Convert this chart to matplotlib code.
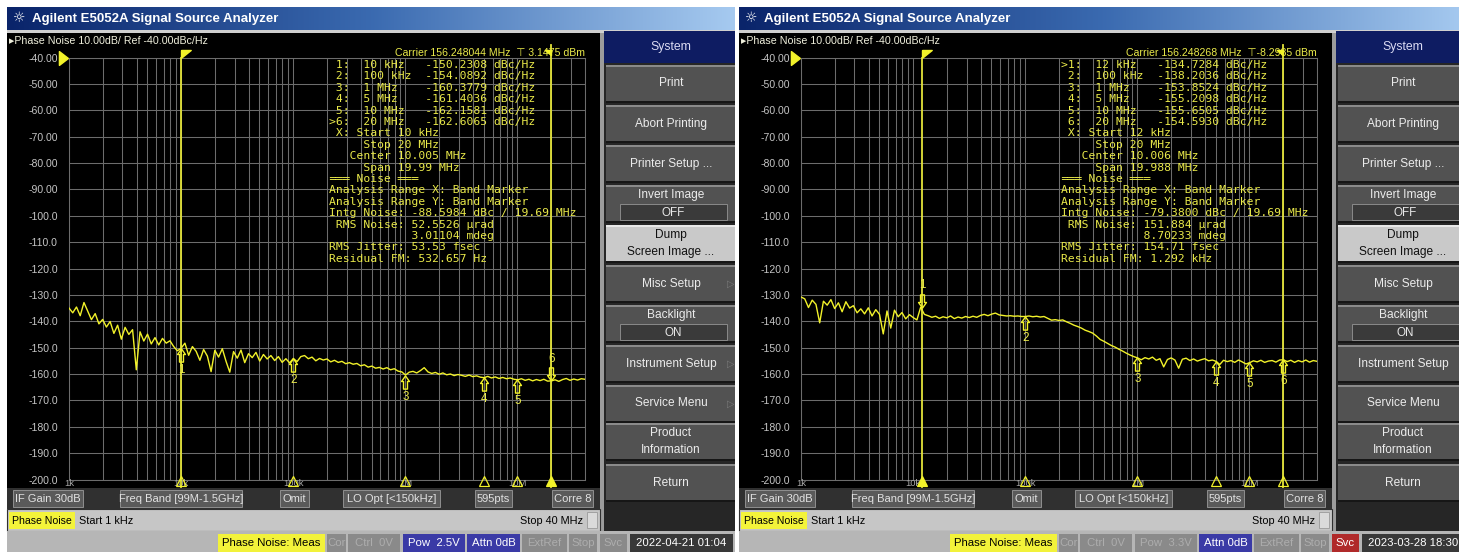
import numpy as np
import matplotlib.pyplot as plt
from matplotlib import transforms
from matplotlib.colors import LinearSegmentedColormap
from matplotlib.patches import Rectangle
from matplotlib.path import Path
from matplotlib.ticker import LogLocator, NullFormatter, FixedLocator

plt.rcParams['font.family'] = ['Liberation Sans', 'DejaVu Sans']

W, H = 1459, 552
DX = 732  # second screen sits this many pixels to the right

# ---- sweep: 1 kHz .. 40 MHz, log spaced points
start_freq, stop_freq = 1e3, 40e6

trace_a = [
    -135.0, -136.8, -134.6, -137.9, -132.9, -136.2, -139.4, -137.1, -141.0, -139.3,
    -142.2, -140.1, -144.6, -141.5, -146.8, -142.3, -145.0, -143.2, -158.4, -144.0,
    -147.5, -144.9, -148.6, -146.2, -149.0, -146.5, -148.3, -147.4, -149.6, -151.2,
    -150.2, -148.3, -152.9, -149.6, -151.4, -154.8, -150.7, -153.2, -159.1, -151.0,
    -153.6, -150.4, -155.2, -159.3, -151.5, -154.0, -150.9, -155.7, -152.3, -153.8,
    -151.8, -155.1, -152.6, -154.3, -153.0, -154.9, -153.4, -155.6, -154.2, -155.8,
    -154.1, -155.3, -153.4, -153.0, -154.2, -153.6, -155.0, -154.1, -154.7, -154.3,
    -155.4, -154.8, -155.6, -155.2, -156.1, -155.7, -156.3, -156.0, -156.9, -156.5,
    -157.4, -157.0, -157.8, -157.5, -158.1, -157.6, -158.4, -158.0, -158.9, -159.2,
    -160.4, -159.3, -159.0, -159.6, -158.7, -157.6, -159.2, -159.8, -159.4, -160.1,
    -159.6, -160.3, -160.0, -160.6, -160.2, -160.5, -160.9, -160.4, -161.0, -160.7,
    -161.2, -161.4, -160.9, -161.5, -161.1, -161.7, -161.3, -161.8, -161.5, -162.0,
    -162.2, -161.8, -162.4, -162.0, -162.6, -162.1, -162.5, -162.0, -162.7, -162.6,
    -162.2, -162.8, -162.1, -161.7, -162.4, -161.9, -162.3, -161.8, -162.0,
]
trace_b = [
    -130.8, -131.5, -134.8, -132.0, -133.6, -140.6, -132.4, -133.9, -131.8, -135.2,
    -133.0, -136.4, -132.6, -135.0, -134.1, -136.8, -135.3, -137.2, -134.9, -138.0,
    -135.6, -137.4, -144.8, -136.1, -142.6, -135.8, -138.3, -136.7, -139.1, -137.5,
    -138.6, -139.5, -134.7, -137.4, -137.9, -138.5, -138.1, -138.9, -138.3, -138.7,
    -138.0, -139.0, -138.4, -138.8, -138.2, -138.6, -138.1, -138.5, -137.8, -137.4,
    -137.9, -137.3, -136.9, -137.6, -137.8, -138.0, -137.9, -138.1, -138.0, -138.2,
    -138.2, -138.0, -138.3, -138.1, -138.4, -138.2, -138.9, -139.6, -139.4, -139.7,
    -139.5, -140.2, -140.8, -141.5, -142.0, -142.6, -143.4, -143.9, -144.5, -145.6,
    -146.9, -147.6, -148.4, -149.2, -149.8, -150.6, -151.3, -152.1, -152.8, -153.4,
    -153.9, -154.6, -153.8, -154.3, -153.6, -154.8, -154.2, -157.3, -154.5, -153.9,
    -154.7, -157.8, -154.4, -154.0, -154.9, -154.3, -155.1, -154.6, -154.2, -155.0,
    -154.7, -155.2, -156.4, -154.8, -155.3, -154.9, -155.6, -154.7, -155.4, -156.2,
    -155.7, -155.0, -155.4, -154.8, -155.6, -155.1, -154.9, -155.5, -154.7, -154.6,
    -155.3, -154.8, -155.6, -154.9, -155.4, -154.7, -155.5, -154.9, -155.2,
]

marker_freq_a = [10e3, 100e3, 1e6, 5e6, 10e6, 20e6]
marker_val_a = [-150.2308, -154.0892, -160.3779, -161.4036, -162.1581, -162.6065]
marker_freq_b = [12e3, 100e3, 1e6, 5e6, 10e6, 20e6]
marker_val_b = [-134.7284, -138.2036, -153.8524, -155.2098, -155.6505, -154.5930]
band_a = [10e3, 20e6]
band_b = [12e3, 20e6]

ytick_vals = [-40, -50, -60, -70, -80, -90, -100, -110, -120, -130, -140,
              -150, -160, -170, -180, -190, -200]
ytick_labels = ['-40.00', '-50.00', '-60.00', '-70.00', '-80.00', '-90.00',
                '-100.0', '-110.0', '-120.0', '-130.0', '-140.0', '-150.0',
                '-160.0', '-170.0', '-180.0', '-190.0', '-200.0']
xlabel_freqs = [1e3, 1e4, 1e5, 1e6, 1e7]
xlabel_texts = ['1k', '10k', '100k', '1M', '10M']

table_a = [
    " 1:  10 kHz   -150.2308 dBc/Hz",
    " 2:  100 kHz  -154.0892 dBc/Hz",
    " 3:  1 MHz    -160.3779 dBc/Hz",
    " 4:  5 MHz    -161.4036 dBc/Hz",
    " 5:  10 MHz   -162.1581 dBc/Hz",
    ">6:  20 MHz   -162.6065 dBc/Hz",
    " X: Start 10 kHz",
    "     Stop 20 MHz",
    "   Center 10.005 MHz",
    "     Span 19.99 MHz",
    "═══ Noise ═══",
    "Analysis Range X: Band Marker",
    "Analysis Range Y: Band Marker",
    "Intg Noise: -88.5984 dBc / 19.69 MHz",
    " RMS Noise: 52.5526 µrad",
    "            3.01104 mdeg",
    "RMS Jitter: 53.53 fsec",
    "Residual FM: 532.657 Hz",
]
table_b = [
    ">1:  12 kHz   -134.7284 dBc/Hz",
    " 2:  100 kHz  -138.2036 dBc/Hz",
    " 3:  1 MHz    -153.8524 dBc/Hz",
    " 4:  5 MHz    -155.2098 dBc/Hz",
    " 5:  10 MHz   -155.6505 dBc/Hz",
    " 6:  20 MHz   -154.5930 dBc/Hz",
    " X: Start 12 kHz",
    "     Stop 20 MHz",
    "   Center 10.006 MHz",
    "     Span 19.988 MHz",
    "═══ Noise ═══",
    "Analysis Range X: Band Marker",
    "Analysis Range Y: Band Marker",
    "Intg Noise: -79.3800 dBc / 19.69 MHz",
    " RMS Noise: 151.884 µrad",
    "            8.70233 mdeg",
    "RMS Jitter: 154.71 fsec",
    "Residual FM: 1.292 kHz",
]
carrier_a = "Carrier 156.248044 MHz  ⊤ 3.1475 dBm"
carrier_b = "Carrier 156.248268 MHz  ⊤-8.2985 dBm"

menu_items = [("Print", None, False), ("Abort Printing", None, False),
              ("Printer Setup ...", None, False), ("Invert Image", "OFF", False),
              ("Dump\nScreen Image ...", None, False), ("Misc Setup", None, True),
              ("Backlight", "ON", False), ("Instrument Setup", None, True),
              ("Service Menu", None, True), ("Product\nInformation", None, False),
              ("Return", None, False)]
status1 = [("IF Gain 30dB", 13, 83), ("Freq Band [99M-1.5GHz]", 120, 242),
           ("Omit", 280, 309), ("LO Opt [<150kHz]", 343, 440),
           ("595pts", 475, 512), ("Corre 8", 552, 593)]
status3_a = [("Phase Noise: Meas", 218, 325, 'meas'), ("Cor", 327, 346, 'dim'),
             ("Ctrl  0V", 348, 400, 'dim'), ("Pow  2.5V", 403, 465, 'blue'),
             ("Attn 0dB", 467, 520, 'blue'), ("ExtRef", 522, 567, 'dim'),
             ("Stop", 569, 597, 'dim'), ("Svc", 600, 627, 'dim'),
             ("2022-04-21 01:04", 630, 733, 'date')]
status3_b = [("Phase Noise: Meas", 218, 325, 'meas'), ("Cor", 327, 346, 'dim'),
             ("Ctrl  0V", 348, 400, 'dim'), ("Pow  3.3V", 403, 465, 'dim'),
             ("Attn 0dB", 467, 520, 'blue'), ("ExtRef", 522, 567, 'dim'),
             ("Stop", 569, 597, 'dim'), ("Svc", 600, 627, 'red'),
             ("2023-03-28 18:30", 630, 733, 'date')]
status_styles = {'meas': ('#f2f23a', '#000000'), 'dim': ('#8a8a8a', '#adadad'),
                 'blue': ('#3a3aa6', '#ffffff'), 'red': ('#b02a2a', '#ffffff'),
                 'date': ('#383838', '#ffffff')}

YEL = '#f2f22a'
TXT = '#eaea4a'
GRID = '#6c6c6c'
MONO = 'DejaVu Sans Mono'

ARROW_UP = Path([(0, 1), (-0.6, 0.15), (-0.3, 0.15), (-0.3, -1), (0.3, -1),
                 (0.3, 0.15), (0.6, 0.15), (0, 1)])
ARROW_DN = Path([(0, -1), (-0.6, -0.15), (-0.3, -0.15), (-0.3, 1), (0.3, 1),
                 (0.3, -0.15), (0.6, -0.15), (0, -1)])
FLAG_L = Path([(0, 0), (1, 0), (0, -0.8), (0, 0)])
FLAG_R = Path([(0, 0), (-1, 0), (0, -0.8), (0, 0)])
REF = Path([(1, 0), (-0.3, 1), (-0.3, -1), (1, 0)])

fig = plt.figure(figsize=(W / 100, H / 100), dpi=100)
fig.patch.set_facecolor('white')
bg = fig.add_axes([0, 0, 1, 1])
bg.axis('off')
title_cmap = LinearSegmentedColormap.from_list('tb', ['#0a246a', '#3a6ab0', '#a6caf0'])


def box(x, y, w, h, fc, ec='none', lw=0.8, z=1):
    bg.add_patch(Rectangle((x, y), w, h, facecolor=fc, edgecolor=ec, linewidth=lw, zorder=z))


def label(x, y, s, size=8.0, color='#e4e4e4', ha='left', z=3, **kw):
    bg.text(x, y, s, fontsize=size, color=color, ha=ha, va='center', zorder=z, **kw)


def draw_screen(x0, trace, mf, mv, active, band, table, carrier, status3):
    # title bar
    bg.imshow(np.linspace(0, 1, 256)[None, :], extent=(x0 + 7, x0 + 735, 30, 7),
              cmap=title_cmap, aspect='auto', interpolation='bilinear', zorder=1)
    label(x0 + 19, 18.5, '☼', size=10, color='#ffffff', ha='center', family='DejaVu Sans')
    label(x0 + 32, 19, 'Agilent E5052A Signal Source Analyzer', size=9.5,
          color='#ffffff', weight='bold')
    box(x0 + 7, 30, 728, 3, '#cfcfcf')
    # display area
    box(x0 + 7, 33, 593, 455, '#000000')
    label(x0 + 9, 40.5, '▸Phase Noise 10.00dB/ Ref -40.00dBc/Hz', size=7.7, color='#efefdc')
    # soft-key menu
    box(x0 + 600, 33, 135, 499, '#262626')
    box(x0 + 600, 33, 4, 499, '#9c9c9c')
    box(x0 + 604, 31, 131, 32, '#0e1c62')
    label(x0 + 671, 47, 'System', size=8.8, color='#dcdcf4', ha='center')
    tops = [65, 105, 145, 185, 225, 265, 305, 345, 385, 423, 464]
    for top, (name, sub, arrow) in zip(tops, menu_items):
        lit = name.startswith('Dump')
        box(x0 + 606, top, 129, 37, '#c9c9c9' if lit else '#525252')
        box(x0 + 606, top, 129, 1.5, '#8a8a8a' if not lit else '#e8e8e8', z=2)
        box(x0 + 606, top + 36, 129, 1.5, '#161616', z=2)
        tc = '#101010' if lit else '#ececec'
        if sub:
            label(x0 + 671, top + 10, name, size=8.6, color=tc, ha='center')
            box(x0 + 620, top + 19, 107, 16, '#3a3a3a', ec='#8a8a8a', lw=0.7, z=2)
            label(x0 + 673, top + 27.5, sub, size=8.4, color='#e8e8e8', ha='center')
        else:
            label(x0 + 671, top + 18.5, name, size=8.6, color=tc, ha='center',
                  linespacing=1.45)
        if arrow and x0 + 736 < W:
            label(x0 + 731, top + 18.5, '▷', size=7, color='#7a7a7a', ha='center',
                  family='DejaVu Sans')
    # status rows
    box(x0 + 7, 488, 593, 21, '#303030')
    for s, a, b in status1:
        box(x0 + a, 490, b - a, 17, '#5a5a5a', ec='#9a9a9a', lw=0.6, z=2)
        label(x0 + (a + b) / 2, 498.5, s, size=8.0, color='#e2e2e2', ha='center')
    box(x0 + 7, 509, 593, 22, '#c6c6c6', ec='#303030', lw=0.8)
    box(x0 + 9, 512, 66, 17, '#f4f43a', z=2)
    label(x0 + 42, 520.5, 'Phase Noise', size=7.6, color='#000000', ha='center')
    label(x0 + 79, 520.5, 'Start 1 kHz', size=7.8, color='#000000')
    label(x0 + 583, 520.5, 'Stop 40 MHz', size=7.8, color='#000000', ha='right')
    box(x0 + 587, 512, 10, 16, '#dadada', ec='#9a9a9a', lw=0.6, z=2)
    box(x0 + 7, 531, 728, 21, '#b6b6b6')
    for s, a, b, st in status3:
        fc, tc = status_styles[st]
        box(x0 + a, 534, b - a, 18, fc, z=2)
        label(x0 + (a + b) / 2, 543, s, size=8.2, color=tc, ha='center')

    # ---- measurement grid
    ax = fig.add_axes([(x0 + 69) / W, (H - 479.5) / H, 516 / W, 422 / H], zorder=2)
    ax.patch.set_alpha(0)
    ax.set_xscale('log')
    ax.set_xlim(start_freq, stop_freq)
    ax.set_ylim(-200, -40)
    ax.set_axisbelow(True)
    ax.xaxis.set_major_locator(LogLocator(base=10, numticks=20))
    ax.xaxis.set_minor_locator(LogLocator(base=10, subs=np.arange(2, 10), numticks=40))
    ax.xaxis.set_major_formatter(NullFormatter())
    ax.xaxis.set_minor_formatter(NullFormatter())
    ax.yaxis.set_major_locator(FixedLocator(ytick_vals))
    ax.set_yticklabels(ytick_labels)
    ax.tick_params(which='both', length=0)
    ax.tick_params(axis='y', pad=8, labelsize=7.6, labelcolor='#c4c4c4')
    ax.grid(which='both', color=GRID, lw=0.75)
    for sp in ax.spines.values():
        sp.set_color(GRID)
        sp.set_linewidth(0.75)

    freq = np.geomspace(start_freq, stop_freq, len(trace))
    ax.plot(freq, trace, color=YEL, lw=1.0, zorder=3)

    # band marker lines and flags
    ax.axvline(band[0], ymin=-0.018, ymax=1.0, color='#e4e43a', lw=1.3, zorder=4, clip_on=False)
    ax.axvline(band[1], ymin=-0.018, ymax=1.03, color='#e4e43a', lw=1.3, zorder=4, clip_on=False)
    top_tr = transforms.blended_transform_factory(ax.transData, ax.transAxes)
    flag_tr = transforms.offset_copy(top_tr, fig=fig, x=0, y=5.4, units='points')
    ax.plot([band[0]], [1], transform=flag_tr, marker=FLAG_L, ms=14, color=YEL,
            ls='none', clip_on=False, zorder=5)
    ax.plot([band[1]], [1], transform=flag_tr, marker=FLAG_R, ms=9, color=YEL,
            ls='none', clip_on=False, zorder=5)
    ref_tr = transforms.offset_copy(
        transforms.blended_transform_factory(ax.transAxes, ax.transData),
        fig=fig, x=-5.5, y=0, units='points')
    ax.plot([0], [ytick_vals[0]], transform=ref_tr, marker=REF, ms=10, color=YEL,
            ls='none', clip_on=False, zorder=5)

    # markers on the trace
    ms = 9.5
    below = transforms.offset_copy(ax.transData, fig=fig, x=0, y=-ms / 2, units='points')
    above = transforms.offset_copy(ax.transData, fig=fig, x=0, y=ms / 2, units='points')
    for k, (f, v) in enumerate(zip(mf, mv)):
        if k == active:
            ax.plot([f], [v], transform=above, marker=ARROW_DN, ms=ms, mfc='none',
                    mec=YEL, mew=1.0, ls='none', zorder=5, clip_on=False)
            ax.annotate(str(k + 1), (f, v), xytext=(0, 16), textcoords='offset points',
                        ha='center', va='center', fontsize=8.4, color=TXT, zorder=5)
        else:
            ax.plot([f], [v], transform=below, marker=ARROW_UP, ms=ms, mfc='none',
                    mec=YEL, mew=1.0, ls='none', zorder=5, clip_on=False)
            ax.annotate(str(k + 1), (f, v), xytext=(0, -15.5), textcoords='offset points',
                        ha='center', va='center', fontsize=8.4, color=TXT, zorder=5)

    # frequency labels and marker ticks along the bottom
    bot_tr = transforms.offset_copy(top_tr, fig=fig, x=0, y=-3, units='points')
    for f, s in zip(xlabel_freqs, xlabel_texts):
        ax.text(f, 0, s, transform=bot_tr, ha='center', va='center', fontsize=6.8,
                color='#a8a8a8', zorder=3)
    tick_tr = transforms.offset_copy(top_tr, fig=fig, x=0, y=-1.2, units='points')
    for k, f in enumerate(mf):
        ax.plot([f], [0], transform=tick_tr, marker='^', ms=7,
                mfc=YEL if k == active else 'none', mec=YEL, mew=0.9,
                ls='none', clip_on=False, zorder=5)

    # marker read-out table and carrier line
    ax.text(x0 + 585, 53, carrier, transform=bg.transData, ha='right', va='center',
            fontsize=7.6, color=TXT, zorder=3, family=['Liberation Sans', 'DejaVu Sans'])
    for i, line in enumerate(table):
        ax.text(x0 + 329, 65 + i * 11.4, line, transform=bg.transData, ha='left',
                va='center', fontsize=8.2, color=TXT, family=MONO, zorder=3)


draw_screen(0, trace_a, marker_freq_a, marker_val_a, 5, band_a, table_a, carrier_a, status3_a)
draw_screen(DX, trace_b, marker_freq_b, marker_val_b, 0, band_b, table_b, carrier_b, status3_b)

bg.set_xlim(0, W)
bg.set_ylim(H, 0)
fig.savefig('out.png', dpi=100, facecolor='white')
